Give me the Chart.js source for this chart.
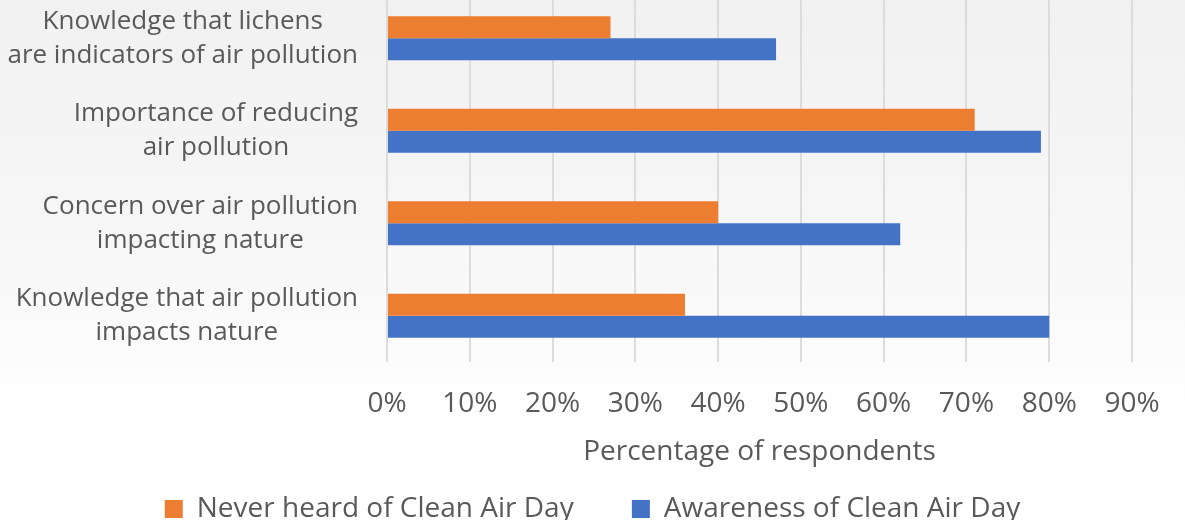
<!DOCTYPE html>
<html>
<head>
<meta charset="utf-8">
<script src="https://cdn.jsdelivr.net/npm/chart.js@4.4.0/dist/chart.umd.min.js"></script>
<style>
  html, body { margin: 0; padding: 0; }
  body {
    width: 1185px; height: 520px; overflow: hidden; position: relative;
    background: linear-gradient(to bottom, #f1f1f1 0%, #f6f6f6 40%, #fcfcfc 70%, #ffffff 80%, #ffffff 100%);
  }
  #wrap { position: absolute; left: 0; top: -8px; width: 1185px; height: 541px; }
</style>
</head>
<body>
<div id="wrap"><canvas id="chart"></canvas></div>
<script>
const categories = [
  ["Knowledge that lichens", "are indicators of air pollution"],
  ["Importance of reducing", "air pollution"],
  ["Concern over air pollution", "impacting nature"],
  ["Knowledge that air pollution", "impacts nature"]
];
const neverHeard = [27, 71, 40, 36];
const awareness = [47, 79, 62, 80];
const seriesNames = ["Never heard of Clean Air Day", "Awareness of Clean Air Day"];
const xTicks = [0, 10, 20, 30, 40, 50, 60, 70, 80, 90];

const textColor = "#595959";
const fontFamily = "'Open Sans', sans-serif";

// draws the category labels: block right-aligned, lines centered inside the block
const categoryLabels = {
  id: "categoryLabels",
  afterDraw(chart) {
    const ctx = chart.ctx;
    const yScale = chart.scales.y;
    const right = chart.chartArea.left - 29;
    const lineH = 34;
    ctx.save();
    ctx.font = "26px " + fontFamily;
    ctx.fillStyle = textColor;
    ctx.textAlign = "center";
    ctx.textBaseline = "middle";
    categories.forEach((lines, i) => {
      const widest = Math.max(...lines.map(l => ctx.measureText(l).width));
      const cx = right - widest / 2;
      const cy = yScale.getPixelForValue(i);
      lines.forEach((l, j) => {
        ctx.fillText(l, cx, cy + (j - (lines.length - 1) / 2) * lineH);
      });
    });
    ctx.restore();
  }
};

const ctx = document.getElementById("chart").getContext("2d");
new Chart(ctx, {
  type: "bar",
  data: {
    labels: categories.map(c => c.join(" ")),
    datasets: [
      { label: seriesNames[0], data: neverHeard, backgroundColor: "#ED7D31" },
      { label: seriesNames[1], data: awareness, backgroundColor: "#4472C4" }
    ]
  },
  options: {
    indexAxis: "y",
    responsive: true,
    maintainAspectRatio: false,
    animation: false,
    layout: { padding: 0 },
    datasets: { bar: { categoryPercentage: 0.476, barPercentage: 1.0 } },
    scales: {
      x: {
        min: 0,
        max: 90,
        afterBuildTicks: scale => { scale.ticks = xTicks.map(v => ({ value: v })); },
        afterFit: scale => { scale.height = 133; },
        grid: { color: "#dcdcdc", lineWidth: 2, drawTicks: false },
        border: { display: false },
        ticks: {
          color: textColor,
          font: { family: fontFamily, size: 28 },
          padding: 25,
          callback: v => v + "%"
        },
        title: {
          display: true,
          text: "Percentage of respondents",
          color: textColor,
          font: { family: fontFamily, size: 28 },
          padding: { top: 0, bottom: 26 }
        }
      },
      y: {
        grid: { display: false },
        border: { display: false },
        ticks: { display: false },
        afterFit: scale => { scale.width = 387; }
      },
      // empty right-hand axis: keeps room right of the plot without shifting the legend
      yRight: {
        type: "linear",
        position: "right",
        grid: { display: false },
        border: { display: false },
        ticks: { display: false },
        afterFit: scale => { scale.width = 53; }
      }
    },
    plugins: {
      legend: {
        position: "bottom",
        labels: {
          color: textColor,
          font: { family: fontFamily, size: 28 },
          boxWidth: 18,
          boxHeight: 18,
          padding: 0,
          // trailing spaces keep the wide gap between the two entries
          generateLabels: chart => Chart.defaults.plugins.legend.labels.generateLabels(chart)
            .map((item, i) => ({ ...item, text: i === 0 ? item.text + "        " : item.text }))
        }
      },
      tooltip: { enabled: false }
    }
  },
  plugins: [categoryLabels]
});
</script>
</body>
</html>
